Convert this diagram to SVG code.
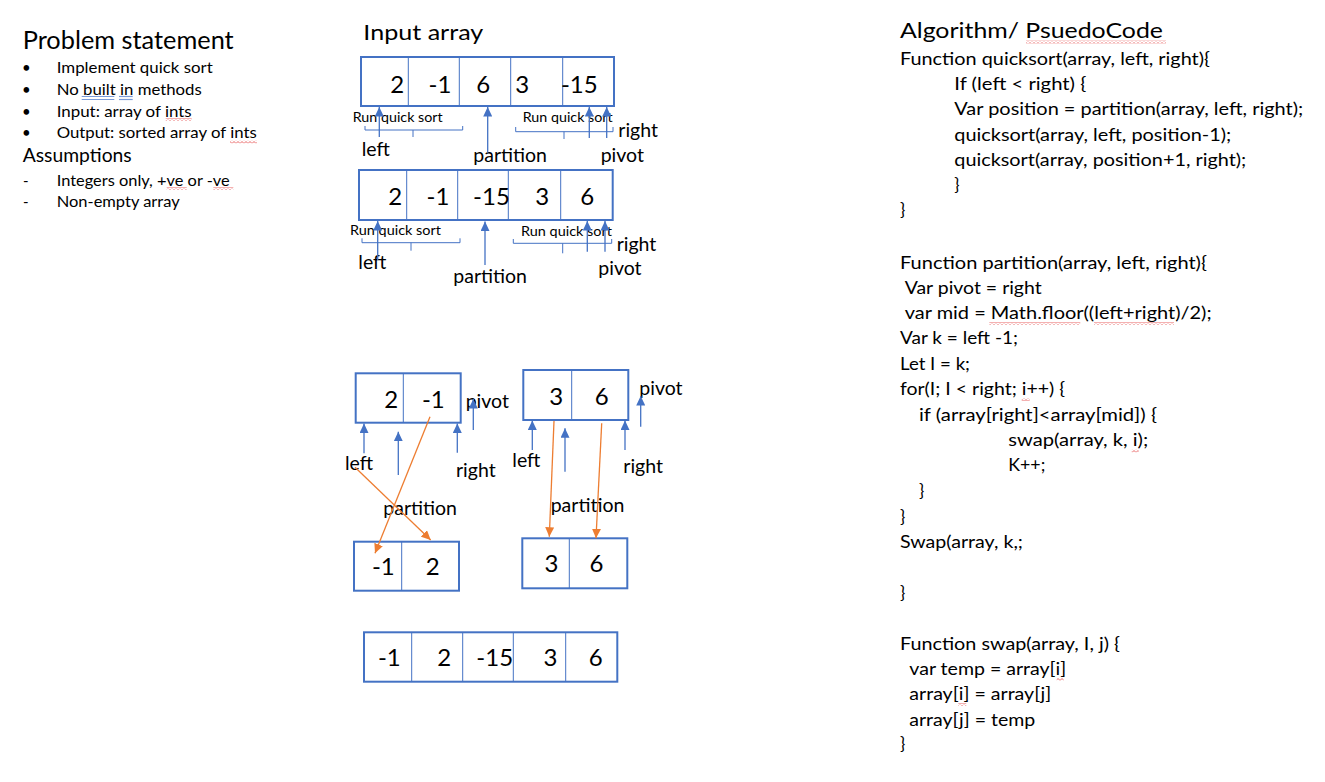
<svg xmlns="http://www.w3.org/2000/svg" width="1325" height="782" viewBox="0 0 1325 782">
<style>
text{font-family:Lato,"Liberation Sans",sans-serif;fill:#000}
.box{fill:#fff;stroke:#4472C4;stroke-width:2}
.dv{stroke:#4472C4;stroke-width:1}
.num{font-size:24px;text-anchor:middle}
.lbl{font-size:19.5px}
.sm{font-size:12.5px}
.code{font-size:17.5px}
.bul{font-size:15px}
.arr{stroke:#4472C4;stroke-width:1.3;fill:none;marker-end:url(#hb)}
.oarr{stroke:#ED7D31;stroke-width:1.3;fill:none;marker-end:url(#ho)}
.brace{stroke:#4472C4;stroke-width:1;fill:none}
.gu{stroke:#7A9BD8;stroke-width:1.2}
</style>
<defs>
<marker id="hb" markerUnits="userSpaceOnUse" markerWidth="10" markerHeight="9" refX="9.5" refY="4.5" orient="auto"><path d="M0,0 L9.5,4.5 L0,9 z" fill="#4472C4"/></marker>
<marker id="ho" markerUnits="userSpaceOnUse" markerWidth="10" markerHeight="9" refX="9.5" refY="4.5" orient="auto"><path d="M0,0 L9.5,4.5 L0,9 z" fill="#ED7D31"/></marker>
<pattern id="sq" width="4" height="3" patternUnits="userSpaceOnUse"><path d="M0 2.5 L2 0.5 L4 2.5" stroke="#E02020" stroke-width="0.7" fill="none"/></pattern>
</defs>
<rect width="1325" height="782" fill="#fff"/>

<g id="problem-statement">
<text x="22.7" y="49" font-size="25" textLength="211" lengthAdjust="spacingAndGlyphs">Problem statement</text>
<text class="bul" x="22" y="73.3">•</text>
<text class="bul" x="56.7" y="73.3" textLength="156" lengthAdjust="spacingAndGlyphs">Implement quick sort</text>
<text class="bul" x="22" y="95">•</text>
<text class="bul" x="56.7" y="95" textLength="145" lengthAdjust="spacingAndGlyphs">No built in methods</text>
<text class="bul" x="22" y="116.7">•</text>
<text class="bul" x="56.7" y="116.7" textLength="135" lengthAdjust="spacingAndGlyphs">Input: array of ints</text>
<text class="bul" x="22" y="138">•</text>
<text class="bul" x="56.7" y="138" textLength="200" lengthAdjust="spacingAndGlyphs">Output: sorted array of ints</text>
<text x="22.7" y="161.7" font-size="19" textLength="109" lengthAdjust="spacingAndGlyphs">Assumptions</text>
<text class="bul" x="23" y="185.7">-</text>
<text class="bul" x="56.7" y="185.7" textLength="173" lengthAdjust="spacingAndGlyphs">Integers only, +ve or -ve</text>
<text class="bul" x="23" y="206.7">-</text>
<text class="bul" x="56.7" y="206.7" textLength="123" lengthAdjust="spacingAndGlyphs">Non-empty array</text>
<line class="gu" x1="81.7" y1="96.5" x2="114.3" y2="96.5"/><line class="gu" x1="81.7" y1="99.5" x2="114.3" y2="99.5"/>
<line class="gu" x1="119" y1="96.5" x2="132.7" y2="96.5"/><line class="gu" x1="119" y1="99.5" x2="132.7" y2="99.5"/>
<rect x="165.7" y="118" width="26" height="3" fill="url(#sq)"/>
<rect x="230" y="140.5" width="27" height="3" fill="url(#sq)"/>
<rect x="166.7" y="187" width="20" height="3" fill="url(#sq)"/>
<rect x="213.3" y="187" width="20" height="3" fill="url(#sq)"/>
</g>

<g id="input-array-title">
<text x="363.3" y="40" font-size="22" textLength="120" lengthAdjust="spacingAndGlyphs">Input array</text>
</g>

<g id="array-1">
<rect class="box" x="361" y="57" width="253" height="49"/>
<line class="dv" x1="408.3" y1="57" x2="408.3" y2="106"/>
<line class="dv" x1="459.3" y1="57" x2="459.3" y2="106"/>
<line class="dv" x1="510.7" y1="57" x2="510.7" y2="106"/>
<line class="dv" x1="562.7" y1="57" x2="562.7" y2="106"/>
<text class="num" x="397.3" y="92.7">2</text>
<text class="num" x="440" y="92.7">-1</text>
<text class="num" x="483.3" y="92.7">6</text>
<text class="num" x="522.3" y="92.7">3</text>
<text class="num" x="579.3" y="92.7">-15</text>
</g>
<g id="array-1-labels">
<text class="sm" x="352.7" y="121.5" textLength="90" lengthAdjust="spacingAndGlyphs">Run quick sort</text>
<text class="sm" x="522.7" y="121.5" textLength="90" lengthAdjust="spacingAndGlyphs">Run quick sort</text>
<path class="brace" d="M365 126 V130 H462.7 V126 M413 130 V137"/>
<path class="brace" d="M515.7 127 V131.7 H613 V127 M564 131.7 V139"/>
<text class="lbl" x="361.7" y="156">left</text>
<text class="lbl" x="473.3" y="161.7">partition</text>
<text class="lbl" x="618.3" y="136.7">right</text>
<text class="lbl" x="600.7" y="161.7">pivot</text>
</g>

<g id="array-2">
<rect class="box" x="359" y="170" width="253.7" height="50"/>
<line class="dv" x1="406.7" y1="170" x2="406.7" y2="220"/>
<line class="dv" x1="457.7" y1="170" x2="457.7" y2="220"/>
<line class="dv" x1="508.3" y1="170" x2="508.3" y2="220"/>
<line class="dv" x1="560.7" y1="170" x2="560.7" y2="220"/>
<text class="num" x="395.3" y="205">2</text>
<text class="num" x="438" y="205">-1</text>
<text class="num" x="491.5" y="205">-15</text>
<text class="num" x="542.3" y="205">3</text>
<text class="num" x="587.3" y="205">6</text>
</g>
<g id="array-2-labels">
<text class="sm" x="350" y="235" textLength="91" lengthAdjust="spacingAndGlyphs">Run quick sort</text>
<text class="sm" x="521" y="235.5" textLength="91" lengthAdjust="spacingAndGlyphs">Run quick sort</text>
<path class="brace" d="M362 238.3 V242.7 H460 V238.3 M411 242.7 V250.7"/>
<path class="brace" d="M513.3 239 V243.3 H611.7 V239 M562.7 243.3 V253.3"/>
<text class="lbl" x="358.3" y="269.3">left</text>
<text class="lbl" x="453.3" y="283.3">partition</text>
<text class="lbl" x="616.7" y="250.7">right</text>
<text class="lbl" x="598.3" y="275">pivot</text>
</g>

<g id="array-3">
<rect class="box" x="355.7" y="373.3" width="105" height="49.4"/>
<line class="dv" x1="403.3" y1="373.3" x2="403.3" y2="422.7"/>
<text class="num" x="391.2" y="407.7">2</text>
<text class="num" x="433.3" y="407.7">-1</text>
</g>
<g id="array-3-labels">
<text class="lbl" x="465.7" y="407.7">pivot</text>
<text class="lbl" x="345" y="470">left</text>
<text class="lbl" x="456" y="477.3">right</text>
<text class="lbl" x="383.3" y="515">partition</text>
</g>

<g id="array-4">
<rect class="box" x="354" y="541.7" width="105" height="49"/>
<line class="dv" x1="401.7" y1="541.7" x2="401.7" y2="590.7"/>
<text class="num" x="383.3" y="575">-1</text>
<text class="num" x="432.8" y="575">2</text>
</g>

<g id="array-5">
<rect class="box" x="523.3" y="370" width="105" height="50"/>
<line class="dv" x1="571.7" y1="370" x2="571.7" y2="420"/>
<text class="num" x="556.2" y="405">3</text>
<text class="num" x="601.8" y="405">6</text>
</g>
<g id="array-5-labels">
<text class="lbl" x="639.3" y="395">pivot</text>
<text class="lbl" x="512.3" y="466.7">left</text>
<text class="lbl" x="623.3" y="473.3">right</text>
<text class="lbl" x="550.7" y="511.7">partition</text>
</g>

<g id="array-6">
<rect class="box" x="522.3" y="538.3" width="105" height="50"/>
<line class="dv" x1="569.3" y1="538.3" x2="569.3" y2="588.3"/>
<text class="num" x="551.5" y="571.7">3</text>
<text class="num" x="596.5" y="571.7">6</text>
</g>

<g id="sorted-array">
<rect class="box" x="364" y="632.3" width="253.3" height="49.4"/>
<line class="dv" x1="411.7" y1="632.3" x2="411.7" y2="681.7"/>
<line class="dv" x1="462.7" y1="632.3" x2="462.7" y2="681.7"/>
<line class="dv" x1="513.3" y1="632.3" x2="513.3" y2="681.7"/>
<line class="dv" x1="565.7" y1="632.3" x2="565.7" y2="681.7"/>
<text class="num" x="389.3" y="665.7">-1</text>
<text class="num" x="444.2" y="665.7">2</text>
<text class="num" x="494.7" y="665.7">-15</text>
<text class="num" x="550.5" y="665.7">3</text>
<text class="num" x="595.8" y="665.7">6</text>
</g>

<g id="connectors">
<line class="arr" x1="379.3" y1="137" x2="379.3" y2="107"/>
<line class="arr" x1="487.7" y1="152.7" x2="487.7" y2="107"/>
<line class="arr" x1="589.3" y1="138" x2="589.3" y2="107"/>
<line class="arr" x1="606.7" y1="138" x2="606.7" y2="107"/>
<line class="arr" x1="377.7" y1="260" x2="377.7" y2="221"/>
<line class="arr" x1="485" y1="265" x2="485" y2="221.5"/>
<line class="arr" x1="587.3" y1="251.7" x2="587.3" y2="221"/>
<line class="arr" x1="605" y1="251.7" x2="605" y2="221"/>
<line class="arr" x1="364" y1="453.3" x2="364" y2="423.5"/>
<line class="arr" x1="398.3" y1="475" x2="398.3" y2="431.7"/>
<line class="arr" x1="457.3" y1="452.7" x2="457.3" y2="423.5"/>
<line class="arr" x1="473.3" y1="430" x2="473.3" y2="399"/>
<line class="arr" x1="532.3" y1="450" x2="532.3" y2="420.5"/>
<line class="arr" x1="565" y1="471.7" x2="565" y2="428.3"/>
<line class="arr" x1="625" y1="450" x2="625" y2="420.5"/>
<line class="arr" x1="640.7" y1="426.7" x2="640.7" y2="396"/>
<line class="oarr" x1="430" y1="416.7" x2="375" y2="553.3"/>
<line class="oarr" x1="355" y1="467.3" x2="430.7" y2="540"/>
<line class="oarr" x1="554" y1="421" x2="549.3" y2="536.7"/>
<line class="oarr" x1="601.7" y1="423.3" x2="596" y2="538.3"/>
</g>

<g id="pseudocode">
<text x="900" y="38.3" font-size="22" textLength="263" lengthAdjust="spacingAndGlyphs">Algorithm/ PsuedoCode</text>
<rect x="1026" y="40.5" width="140" height="3" fill="url(#sq)"/>
<text class="code" x="900" y="65" textLength="310" lengthAdjust="spacingAndGlyphs">Function quicksort(array, left, right){</text>
<text class="code" x="954.3" y="90" textLength="132" lengthAdjust="spacingAndGlyphs">If (left &lt; right) {</text>
<text class="code" x="954.3" y="115" textLength="349" lengthAdjust="spacingAndGlyphs">Var position = partition(array, left, right);</text>
<text class="code" x="954.3" y="140.5" textLength="277" lengthAdjust="spacingAndGlyphs">quicksort(array, left, position-1);</text>
<text class="code" x="954.3" y="165.7" textLength="292" lengthAdjust="spacingAndGlyphs">quicksort(array, position+1, right);</text>
<text class="code" x="954.3" y="191">}</text>
<text class="code" x="900" y="215.5">}</text>
<text class="code" x="900" y="268.5" textLength="307" lengthAdjust="spacingAndGlyphs">Function partition(array, left, right){</text>
<text class="code" x="904.7" y="293.5" textLength="137" lengthAdjust="spacingAndGlyphs">Var pivot = right</text>
<text class="code" x="904.7" y="319" textLength="307" lengthAdjust="spacingAndGlyphs">var mid = Math.floor((left+right)/2);</text>
<rect x="989.3" y="322" width="91" height="3" fill="url(#sq)"/>
<rect x="1094" y="322" width="80" height="3" fill="url(#sq)"/>
<text class="code" x="900" y="344" textLength="118" lengthAdjust="spacingAndGlyphs">Var k = left -1;</text>
<text class="code" x="900" y="369.5" textLength="70" lengthAdjust="spacingAndGlyphs">Let I = k;</text>
<text class="code" x="900" y="395" textLength="165" lengthAdjust="spacingAndGlyphs">for(I; I &lt; right; i++) {</text>
<rect x="1021.7" y="398" width="8" height="3" fill="url(#sq)"/>
<text class="code" x="919" y="420.5" textLength="238" lengthAdjust="spacingAndGlyphs">if (array[right]&lt;array[mid]) {</text>
<text class="code" x="1008.3" y="446" textLength="140" lengthAdjust="spacingAndGlyphs">swap(array, k, i);</text>
<rect x="1131.7" y="449.5" width="7" height="3" fill="url(#sq)"/>
<text class="code" x="1008.3" y="471" textLength="37" lengthAdjust="spacingAndGlyphs">K++;</text>
<text class="code" x="919" y="496.5">}</text>
<text class="code" x="900" y="522.5">}</text>
<text class="code" x="900" y="548" textLength="123" lengthAdjust="spacingAndGlyphs">Swap(array, k,;</text>
<text class="code" x="900" y="599">}</text>
<text class="code" x="900" y="650" textLength="220" lengthAdjust="spacingAndGlyphs">Function swap(array, I, j) {</text>
<text class="code" x="909.3" y="675" textLength="157" lengthAdjust="spacingAndGlyphs">var temp = array[i]</text>
<rect x="1056.7" y="678" width="7" height="3" fill="url(#sq)"/>
<text class="code" x="909.3" y="700" textLength="142" lengthAdjust="spacingAndGlyphs">array[i] = array[j]</text>
<rect x="958.3" y="703" width="8" height="3" fill="url(#sq)"/>
<text class="code" x="909.3" y="725.5" textLength="126" lengthAdjust="spacingAndGlyphs">array[j] = temp</text>
<text class="code" x="900" y="750">}</text>
</g>
</svg>
